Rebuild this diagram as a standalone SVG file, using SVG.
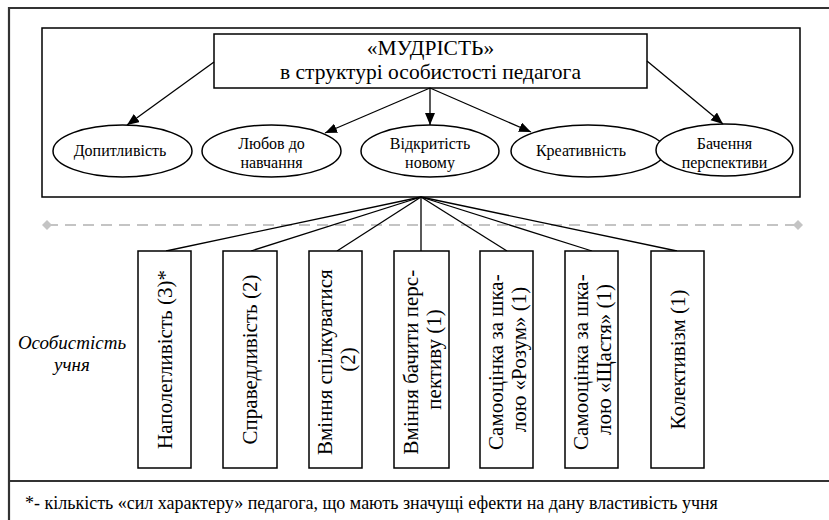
<svg xmlns="http://www.w3.org/2000/svg" width="829" height="520" viewBox="0 0 829 520" font-family="'Liberation Serif', 'Times New Roman', serif">
  <style>
    .frame { fill: none; stroke: #333; stroke-width: 2.2; }
    .box { fill: #fff; stroke: #000; stroke-width: 1.5; }
    .oval { fill: #fff; stroke: #000; stroke-width: 1.5; }
    .link { fill: none; stroke: #000; stroke-width: 1.3; }
    .arrow { fill: none; stroke: #000; stroke-width: 1.3; marker-end: url(#head); }
    .dash { fill: none; stroke: #c4c4c4; stroke-width: 2; stroke-dasharray: 11 7; }
    text { font-family: "Liberation Serif", "Times New Roman", serif; fill: #000; }
    .title { font-size: 21.5px; text-anchor: middle; }
    .otext { font-size: 16px; text-anchor: middle; }
    .vtext { font-size: 21px; text-anchor: middle; }
    .side { font-size: 19px; font-style: italic; text-anchor: middle; }
    .note { font-size: 18px; }
  </style>
  <defs>
    <marker id="head" markerUnits="userSpaceOnUse" markerWidth="14" markerHeight="12" refX="12" refY="5" orient="auto">
      <path d="M0,0 L12,5 L0,10 Z" fill="#000"/>
    </marker>
    <path id="dia" d="M0,-5 L5,0 L0,5 L-5,0 Z" fill="#c4c4c4"/>
  </defs>

  <rect width="829" height="520" fill="#fff"/>

  <!-- page frame -->
  <g id="frame">
    <path class="frame" d="M829,8 H9 V520"/>
    <path class="frame" d="M9,481 H829"/>
  </g>

  <!-- teacher block -->
  <g id="teacher-block">
    <rect class="box" x="42" y="28" width="758" height="169"/>
  </g>

  <g id="wisdom">
    <rect class="box" x="214" y="34" width="433" height="54"/>
    <text class="title" x="430.5" y="55">«МУДРІСТЬ»</text>
    <text class="title" x="430.5" y="79">в структурі особистості педагога</text>
  </g>

  <g id="curiosity">
    <ellipse class="oval" cx="122.5" cy="151" rx="69.5" ry="26"/>
    <text class="otext" x="120" y="156">Допитливість</text>
  </g>
  <g id="love-of-learning">
    <ellipse class="oval" cx="271.5" cy="151" rx="69.5" ry="26"/>
    <text class="otext" x="271.5" y="149">Любов до</text>
    <text class="otext" x="271.5" y="168">навчання</text>
  </g>
  <g id="openness">
    <ellipse class="oval" cx="430" cy="151" rx="69" ry="26"/>
    <text class="otext" x="430" y="149">Відкритість</text>
    <text class="otext" x="430" y="168">новому</text>
  </g>
  <g id="creativity">
    <ellipse class="oval" cx="588" cy="151" rx="77" ry="26"/>
    <text class="otext" x="581" y="156">Креативність</text>
  </g>
  <g id="perspective">
    <ellipse class="oval" cx="724.5" cy="150" rx="68.5" ry="26"/>
    <text class="otext" x="724.5" y="149">Бачення</text>
    <text class="otext" x="724.5" y="168">перспективи</text>
  </g>

  <!-- separator -->
  <g id="separator">
    <line class="dash" x1="47" y1="225" x2="798" y2="225"/>
    <use href="#dia" x="47" y="225"/>
    <use href="#dia" x="798" y="225"/>
  </g>

  <!-- connectors -->
  <g id="connectors">
    <line class="arrow" x1="214" y1="62" x2="127" y2="125"/>
    <line class="arrow" x1="430" y1="88" x2="325" y2="133"/>
    <line class="arrow" x1="430" y1="88" x2="430" y2="125"/>
    <line class="arrow" x1="430" y1="88" x2="531" y2="132"/>
    <line class="arrow" x1="647" y1="61" x2="723" y2="124"/>

    <line class="link" x1="421" y1="197" x2="166" y2="251"/>
    <line class="link" x1="421" y1="197" x2="251" y2="251"/>
    <line class="link" x1="421" y1="197" x2="337" y2="251"/>
    <line class="link" x1="421" y1="197" x2="421" y2="251"/>
    <line class="link" x1="421" y1="197" x2="507" y2="251"/>
    <line class="link" x1="421" y1="197" x2="592" y2="251"/>
    <line class="link" x1="421" y1="197" x2="677" y2="251"/>
  </g>

  <!-- student traits -->
  <g id="side-label">
    <text class="side" x="72" y="349">Особистість</text>
    <text class="side" x="72" y="371">учня</text>
  </g>

  <g id="persistence">
    <rect class="box" x="138" y="251" width="53" height="217"/>
    <text class="vtext" transform="translate(164.5,359.5) rotate(-90)" y="7">Наполегливість (3)*</text>
  </g>
  <g id="fairness">
    <rect class="box" x="223" y="251" width="54" height="217"/>
    <text class="vtext" transform="translate(250,359.5) rotate(-90)" y="7">Справедливість (2)</text>
  </g>
  <g id="communication">
    <rect class="box" x="309" y="251" width="53" height="217"/>
    <text class="vtext" transform="translate(335.5,359.5) rotate(-90)">
      <tspan x="0" y="-4">Вміння спілкуватися</tspan>
      <tspan x="0" y="19">(2)</tspan>
    </text>
  </g>
  <g id="foresight">
    <rect class="box" x="394" y="251" width="55" height="217"/>
    <text class="vtext" transform="translate(421.5,359.5) rotate(-90)">
      <tspan x="0" y="-4">Вміння бачити перс-</tspan>
      <tspan x="0" y="19">пективу (1)</tspan>
    </text>
  </g>
  <g id="self-mind">
    <rect class="box" x="480" y="251" width="53" height="217"/>
    <text class="vtext" transform="translate(506.5,359.5) rotate(-90)">
      <tspan x="0" y="-4">Самооцінка за шка-</tspan>
      <tspan x="0" y="19">лою «Розум» (1)</tspan>
    </text>
  </g>
  <g id="self-happiness">
    <rect class="box" x="565" y="251" width="53" height="217"/>
    <text class="vtext" transform="translate(591.5,359.5) rotate(-90)">
      <tspan x="0" y="-4">Самооцінка за шка-</tspan>
      <tspan x="0" y="19">лою «Щастя» (1)</tspan>
    </text>
  </g>
  <g id="collectivism">
    <rect class="box" x="651" y="251" width="53" height="217"/>
    <text class="vtext" transform="translate(677.5,359.5) rotate(-90)" y="7">Колективізм (1)</text>
  </g>

  <!-- footnote -->
  <g id="footnote">
    <text class="note" x="25" y="509">*- кількість «сил характеру» педагога, що мають значущі ефекти на дану властивість учня</text>
  </g>
</svg>
